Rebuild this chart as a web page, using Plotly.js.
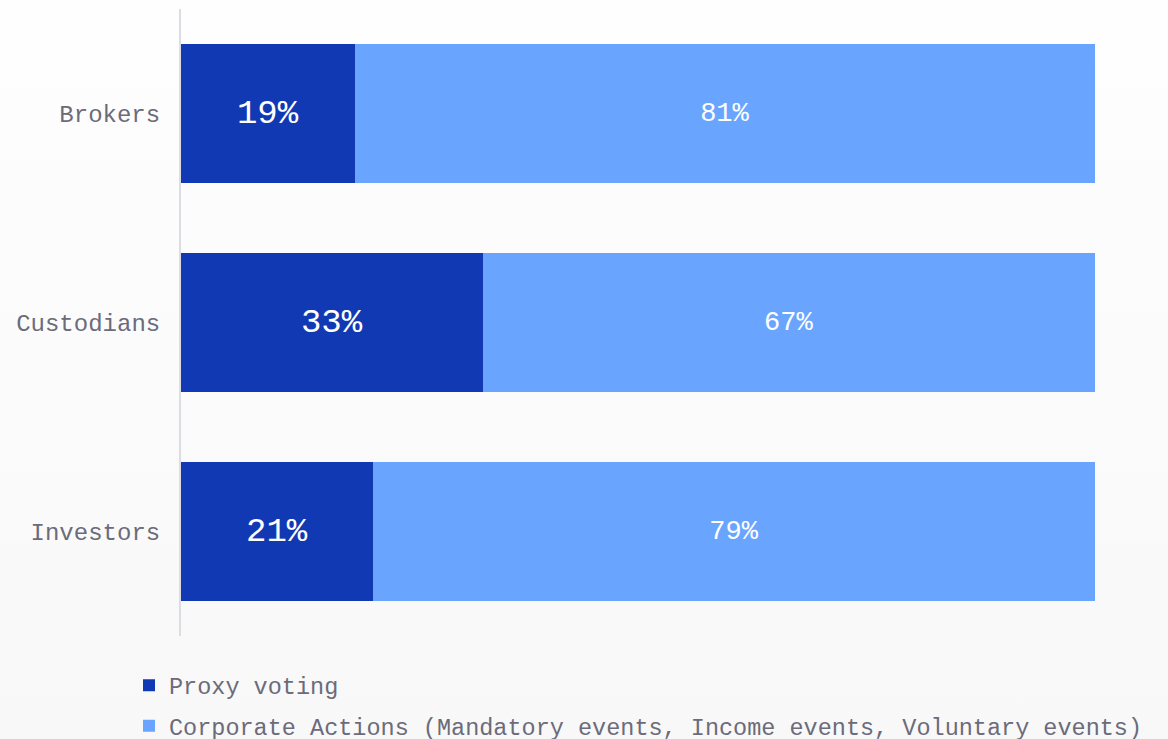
<!DOCTYPE html>
<html>
<head>
<meta charset="utf-8">
<script src="https://cdn.plot.ly/plotly-3.0.1.min.js"></script>
<style>
html,body{margin:0;padding:0;}
body{width:1168px;height:739px;background:linear-gradient(to bottom,#fefefe 0%,#f8f8f8 100%);}
#chart{width:1168px;height:739px;}
</style>
</head>
<body>
<div id="chart"></div>
<script>
const categories = ['Brokers', 'Custodians', 'Investors'];
const proxyVoting = [19, 33, 21];
const corporateActions = [81, 67, 79];
const seriesNames = ['Proxy voting', 'Corporate Actions (Mandatory events, Income events, Voluntary events)'];

const FONT = '"Courier New", "Liberation Mono", monospace';

const traces = [
  {
    type: 'bar', orientation: 'h',
    name: seriesNames[0],
    y: categories, x: proxyVoting,
    marker: {color: '#1239b4'},
    text: proxyVoting.map(v => v + '%'),
    textposition: 'inside', insidetextanchor: 'middle',
    textfont: {family: FONT, size: 34, color: '#ffffff'},
    hoverinfo: 'none', legendgroup: 'a'
  },
  {
    type: 'bar', orientation: 'h',
    name: seriesNames[1],
    y: categories, x: corporateActions,
    marker: {color: '#69a5fe'},
    text: corporateActions.map(v => v + '%'),
    textposition: 'inside', insidetextanchor: 'middle',
    textfont: {family: FONT, size: 27, color: '#ffffff'},
    hoverinfo: 'none', legendgroup: 'b'
  }
];

const layout = {
  width: 1168, height: 739,
  margin: {l: 181, r: 73, t: 9, b: 103, pad: 0, autoexpand: false},
  paper_bgcolor: 'rgba(0,0,0,0)',
  plot_bgcolor: 'rgba(0,0,0,0)',
  barmode: 'stack',
  bargap: 0.335,
  showlegend: true,
  font: {family: FONT, color: '#6b6b7a'},
  xaxis: {range: [0, 100], visible: false, fixedrange: true},
  yaxis: {
    autorange: 'reversed',
    showline: true, linecolor: '#dcdce2', linewidth: 2,
    showgrid: false, zeroline: false,
    ticks: 'outside', ticklen: 14, tickcolor: 'rgba(0,0,0,0)',
    tickfont: {family: FONT, size: 24, color: '#6b6b7a'},
    fixedrange: true
  },
  legend: {
    orientation: 'v',
    xref: 'paper', xanchor: 'left',
    y: -0.0438, yanchor: 'top',
    font: {family: FONT, size: 23.5, color: '#6b6b7a'},
    traceorder: 'grouped', tracegroupgap: 7,
    bgcolor: 'rgba(0,0,0,0)'
  }
};
layout.legend.x = (129 - 181) / (1168 - 181 - 73);

Plotly.newPlot('chart', traces, layout, {displayModeBar: false, staticPlot: true});
</script>
</body>
</html>
